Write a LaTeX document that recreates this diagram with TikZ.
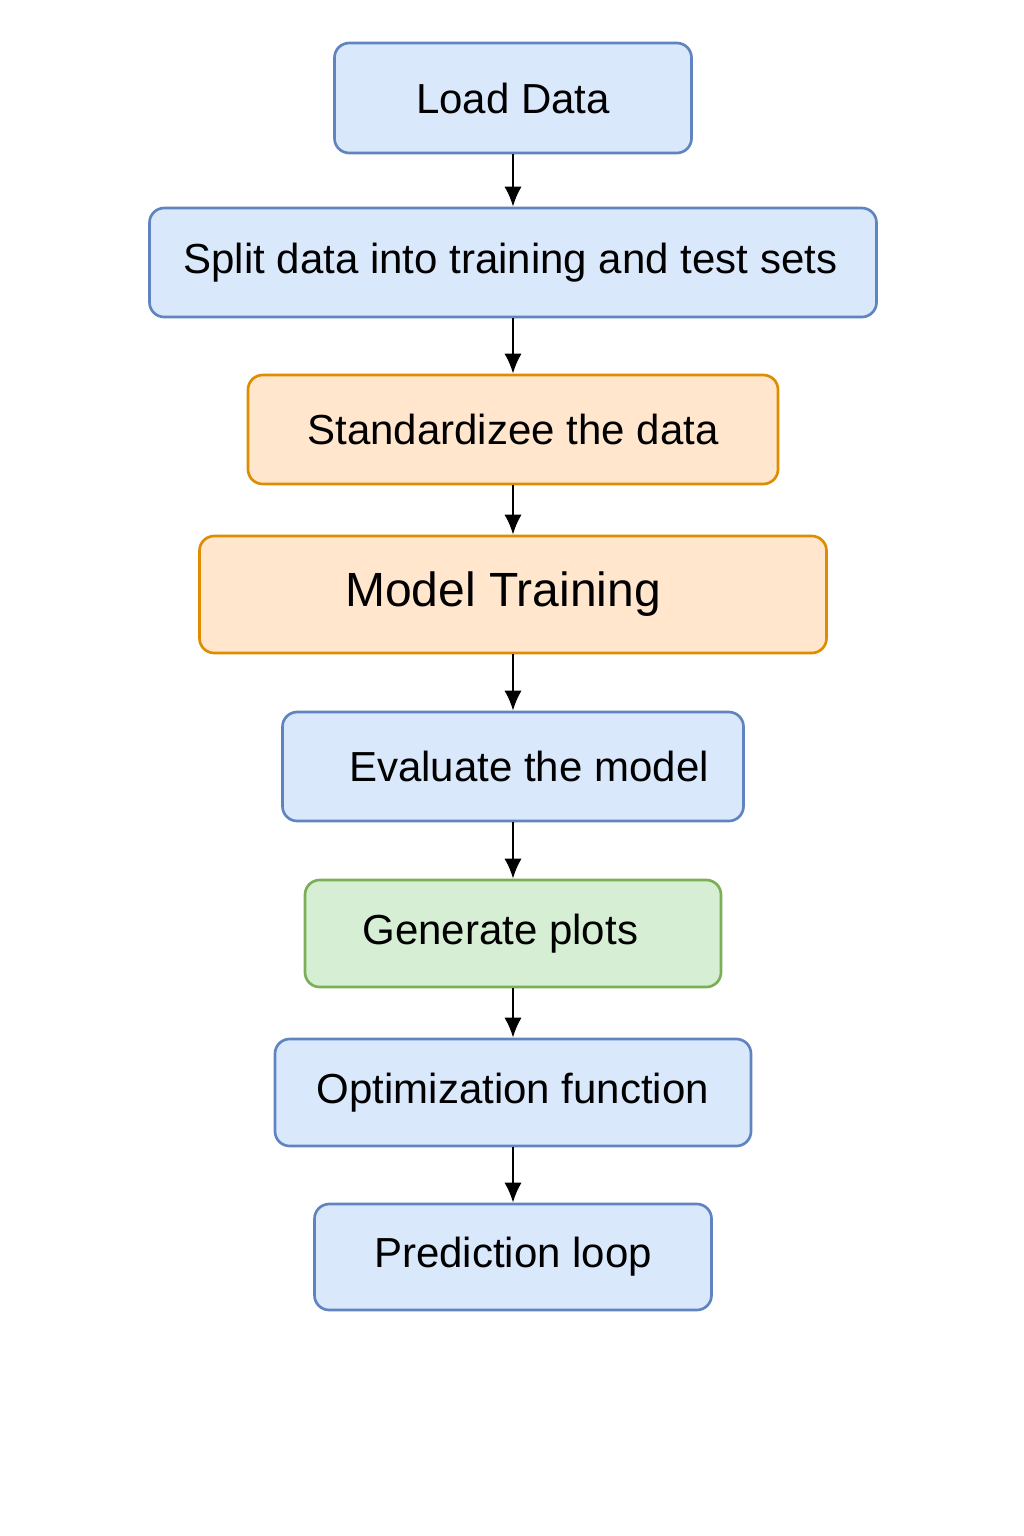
\documentclass[tikz,border=0pt]{standalone}
\usepackage{fontspec}
\setmainfont{Liberation Sans}
\usetikzlibrary{arrows.meta}
\definecolor{bfill}{HTML}{DAE8FC}
\definecolor{bdraw}{HTML}{5F84BF}
\definecolor{ofill}{HTML}{FFE6CC}
\definecolor{odraw}{HTML}{DE8C00}
\definecolor{gfill}{HTML}{D5EED4}
\definecolor{gdraw}{HTML}{7BAF55}
\tikzset{
  box/.style={rectangle, rounded corners=11pt, line width=2pt, inner sep=0pt,
    font=\fontsize{31.5}{38}\selectfont, text=black},
  bluebox/.style={box, fill=bfill, draw=bdraw},
  orangebox/.style={box, fill=ofill, draw=odraw},
  greenbox/.style={box, fill=gfill, draw=gdraw},
  arr/.style={line width=1.8pt, -{Latex[length=15pt,width=13pt]}}
}
\begin{document}
\begin{tikzpicture}[x=0.75pt,y=-0.75pt]
\useasboundingbox (0,0) rectangle (1024,1536);
\node[bluebox, minimum width=267.75pt, minimum height=82.5pt] (load) at (513,98) {Load Data};
\node[bluebox, minimum width=545.25pt, minimum height=81.75pt] (split) at (513,262.5) {Split data into training and test sets\hspace*{4pt}};
\node[orangebox, minimum width=397.5pt, minimum height=81.75pt] (std) at (513,429.5) {Standardizee the data};
\node[orangebox, minimum width=470.25pt, minimum height=87.75pt, font=\fontsize{36}{42}\selectfont] (train) at (513,594.5) {Model Training\hspace*{15pt}};
\node[bluebox, minimum width=345.75pt, minimum height=81.75pt] (eval) at (513,766.5) {\hspace*{24pt}Evaluate the model};
\node[greenbox, minimum width=312pt, minimum height=80.25pt] (gen) at (513,933.5) {Generate plots\hspace*{19pt}};
\node[bluebox, minimum width=357pt, minimum height=80.25pt] (opt) at (513,1092.5) {Optimization function};
\node[bluebox, minimum width=297.75pt, minimum height=79.5pt] (pred) at (513,1257) {Prediction loop};
\draw[arr] (load.south) -- (split.north);
\draw[arr] (split.south) -- (std.north);
\draw[arr] (std.south) -- (train.north);
\draw[arr] (train.south) -- (eval.north);
\draw[arr] (eval.south) -- (gen.north);
\draw[arr] (gen.south) -- (opt.north);
\draw[arr] (opt.south) -- (pred.north);
\end{tikzpicture}
\end{document}
